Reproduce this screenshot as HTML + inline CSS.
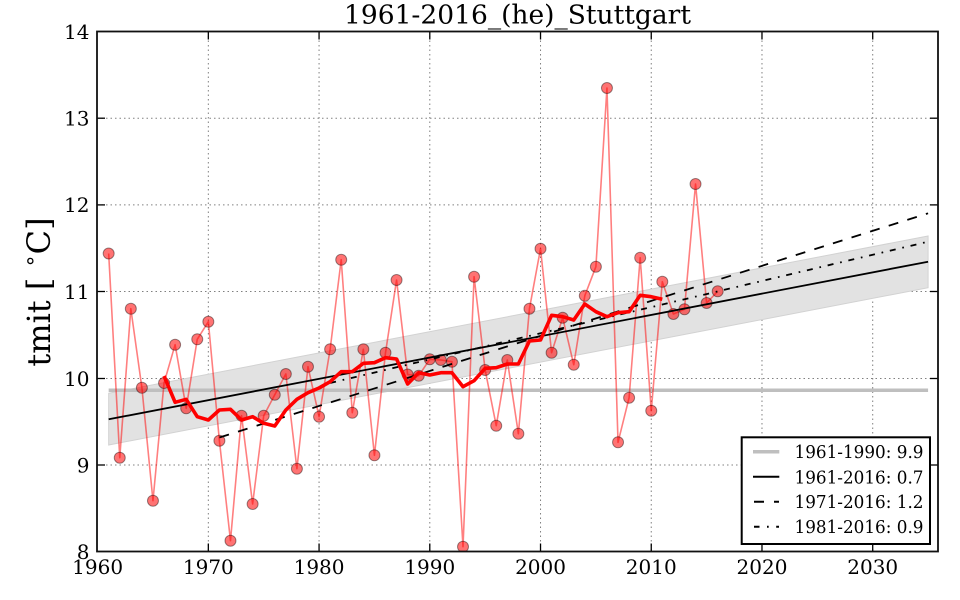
<!DOCTYPE html>
<html>
<head>
<meta charset="utf-8">
<style>
html,body{margin:0;padding:0;background:#fff;}
svg{display:block;}
text{font-family:"DejaVu Serif","Liberation Serif",serif;fill:#000;}
</style>
</head>
<body>
<svg width="960" height="600" viewBox="0 0 960 600" xmlns="http://www.w3.org/2000/svg">
<defs>
<clipPath id="pa"><rect x="97" y="31.5" width="841" height="520"/></clipPath>
</defs>
<rect width="960" height="600" fill="#fff"/>

<!-- grid -->
<g stroke="#808080" stroke-width="1" stroke-dasharray="1.5 3">
<line x1="208.33" y1="31.5" x2="208.33" y2="551.5"/>
<line x1="319.06" y1="31.5" x2="319.06" y2="551.5"/>
<line x1="429.79" y1="31.5" x2="429.79" y2="551.5"/>
<line x1="540.52" y1="31.5" x2="540.52" y2="551.5"/>
<line x1="651.25" y1="31.5" x2="651.25" y2="551.5"/>
<line x1="761.98" y1="31.5" x2="761.98" y2="551.5"/>
<line x1="872.71" y1="31.5" x2="872.71" y2="551.5"/>
<line x1="97" y1="118.2" x2="938" y2="118.2"/>
<line x1="97" y1="204.9" x2="938" y2="204.9"/>
<line x1="97" y1="291.5" x2="938" y2="291.5"/>
<line x1="97" y1="378.5" x2="938" y2="378.5"/>
<line x1="97" y1="465" x2="938" y2="465"/>
</g>

<g clip-path="url(#pa)">
<!-- confidence band -->
<polygon points="108.67,393.3 928.08,236 928.08,287.7 108.67,445" fill="#e2e2e2" stroke="#d2d2d2" stroke-width="1"/>
<!-- reference mean line -->
<line x1="108.67" y1="390.3" x2="928.08" y2="390.3" stroke="#bfbfbf" stroke-width="3.5"/>

<!-- data line -->
<polyline fill="none" stroke="#ff0000" stroke-opacity="0.5" stroke-width="1.6" stroke-linejoin="round"
points="108.67,253.5 119.75,457.7 130.82,308.7 141.89,387.7 152.97,500.7 164.04,383 175.11,344.7 186.18,408.3 197.26,339.3 208.33,321.7 219.40,440.7 230.48,540.7 241.55,415.7 252.62,504 263.70,415.7 274.77,394.7 285.84,374 296.91,468.7 307.99,366.7 319.06,416.7 330.13,349.3 341.21,259.7 352.28,412.7 363.35,349.3 374.43,455.3 385.50,352.7 396.57,280 407.64,374.5 418.72,375.7 429.79,359.3 440.86,360 451.94,361.7 463.01,546.7 474.08,276.7 485.16,370 496.23,425.7 507.30,360 518.37,433.7 529.45,308.7 540.52,248.7 551.59,352.7 562.67,317.7 573.74,364.7 584.81,295.7 595.89,266.7 606.96,88 618.03,442.3 629.10,397.7 640.18,257.7 651.25,410.7 662.32,281.7 673.40,314 684.47,309.3 695.54,184 706.62,303 717.69,291.3"/>

<!-- markers -->
<g fill="#ff0000" fill-opacity="0.55" stroke="#000" stroke-opacity="0.4" stroke-width="1">
<circle cx="108.67" cy="253.5" r="5.5"/><circle cx="119.75" cy="457.7" r="5.5"/><circle cx="130.82" cy="308.7" r="5.5"/><circle cx="141.89" cy="387.7" r="5.5"/><circle cx="152.97" cy="500.7" r="5.5"/><circle cx="164.04" cy="383" r="5.5"/><circle cx="175.11" cy="344.7" r="5.5"/><circle cx="186.18" cy="408.3" r="5.5"/><circle cx="197.26" cy="339.3" r="5.5"/><circle cx="208.33" cy="321.7" r="5.5"/>
<circle cx="219.40" cy="440.7" r="5.5"/><circle cx="230.48" cy="540.7" r="5.5"/><circle cx="241.55" cy="415.7" r="5.5"/><circle cx="252.62" cy="504" r="5.5"/><circle cx="263.70" cy="415.7" r="5.5"/><circle cx="274.77" cy="394.7" r="5.5"/><circle cx="285.84" cy="374" r="5.5"/><circle cx="296.91" cy="468.7" r="5.5"/><circle cx="307.99" cy="366.7" r="5.5"/><circle cx="319.06" cy="416.7" r="5.5"/>
<circle cx="330.13" cy="349.3" r="5.5"/><circle cx="341.21" cy="259.7" r="5.5"/><circle cx="352.28" cy="412.7" r="5.5"/><circle cx="363.35" cy="349.3" r="5.5"/><circle cx="374.43" cy="455.3" r="5.5"/><circle cx="385.50" cy="352.7" r="5.5"/><circle cx="396.57" cy="280" r="5.5"/><circle cx="407.64" cy="374.5" r="5.5"/><circle cx="418.72" cy="375.7" r="5.5"/><circle cx="429.79" cy="359.3" r="5.5"/>
<circle cx="440.86" cy="360" r="5.5"/><circle cx="451.94" cy="361.7" r="5.5"/><circle cx="463.01" cy="546.7" r="5.5"/><circle cx="474.08" cy="276.7" r="5.5"/><circle cx="485.16" cy="370" r="5.5"/><circle cx="496.23" cy="425.7" r="5.5"/><circle cx="507.30" cy="360" r="5.5"/><circle cx="518.37" cy="433.7" r="5.5"/><circle cx="529.45" cy="308.7" r="5.5"/><circle cx="540.52" cy="248.7" r="5.5"/>
<circle cx="551.59" cy="352.7" r="5.5"/><circle cx="562.67" cy="317.7" r="5.5"/><circle cx="573.74" cy="364.7" r="5.5"/><circle cx="584.81" cy="295.7" r="5.5"/><circle cx="595.89" cy="266.7" r="5.5"/><circle cx="606.96" cy="88" r="5.5"/><circle cx="618.03" cy="442.3" r="5.5"/><circle cx="629.10" cy="397.7" r="5.5"/><circle cx="640.18" cy="257.7" r="5.5"/><circle cx="651.25" cy="410.7" r="5.5"/>
<circle cx="662.32" cy="281.7" r="5.5"/><circle cx="673.40" cy="314" r="5.5"/><circle cx="684.47" cy="309.3" r="5.5"/><circle cx="695.54" cy="184" r="5.5"/><circle cx="706.62" cy="303" r="5.5"/><circle cx="717.69" cy="291.3" r="5.5"/>
</g>

<!-- trend lines -->
<line x1="108.67" y1="419.3" x2="928.08" y2="261.7" stroke="#000" stroke-width="1.8"/>
<line x1="219.40" y1="437.5" x2="928.08" y2="213.3" stroke="#000" stroke-width="1.8" stroke-dasharray="10 9.5"/>
<line x1="330.13" y1="383" x2="928.08" y2="241.7" stroke="#000" stroke-width="1.8" stroke-dasharray="6 6.8 1.7 6.8"/>

<!-- running mean -->
<polyline fill="none" stroke="#ff0000" stroke-width="3.6" stroke-linejoin="round" stroke-linecap="butt"
points="164.04,376 175.11,402.3 186.18,399.3 197.26,416.7 208.33,420 219.40,410 230.48,409.3 241.55,420 252.62,416.7 263.70,423.3 274.77,426 285.84,410 296.91,399.3 307.99,392.7 319.06,388 330.13,381.7 341.21,371.7 352.28,371.7 363.35,363.3 374.43,362.7 385.50,357.7 396.57,359 407.64,384 418.72,372.7 429.79,375 440.86,372.7 451.94,372.7 463.01,386.7 474.08,380.7 485.16,368.3 496.23,367.7 507.30,364 518.37,364 529.45,341 540.52,340 551.59,315.3 562.67,316.7 573.74,320 584.81,304 595.89,311.7 606.96,316.7 618.03,312.7 629.10,311.7 640.18,295.3 651.25,296.7 662.32,299.3"/>
</g>

<!-- ticks -->
<g stroke="#000" stroke-width="1.3">
<line x1="97" y1="118.2" x2="105" y2="118.2"/><line x1="97" y1="204.9" x2="105" y2="204.9"/><line x1="97" y1="291.5" x2="105" y2="291.5"/><line x1="97" y1="378.5" x2="105" y2="378.5"/><line x1="97" y1="465" x2="105" y2="465"/>
<line x1="930" y1="118.2" x2="938" y2="118.2"/><line x1="930" y1="204.9" x2="938" y2="204.9"/><line x1="930" y1="291.5" x2="938" y2="291.5"/><line x1="930" y1="378.5" x2="938" y2="378.5"/><line x1="930" y1="465" x2="938" y2="465"/>
<line x1="208.33" y1="551.5" x2="208.33" y2="543.5"/><line x1="319.06" y1="551.5" x2="319.06" y2="543.5"/><line x1="429.79" y1="551.5" x2="429.79" y2="543.5"/><line x1="540.52" y1="551.5" x2="540.52" y2="543.5"/><line x1="651.25" y1="551.5" x2="651.25" y2="543.5"/><line x1="761.98" y1="551.5" x2="761.98" y2="543.5"/><line x1="872.71" y1="551.5" x2="872.71" y2="543.5"/>
<line x1="208.33" y1="31.5" x2="208.33" y2="39.5"/><line x1="319.06" y1="31.5" x2="319.06" y2="39.5"/><line x1="429.79" y1="31.5" x2="429.79" y2="39.5"/><line x1="540.52" y1="31.5" x2="540.52" y2="39.5"/><line x1="651.25" y1="31.5" x2="651.25" y2="39.5"/><line x1="761.98" y1="31.5" x2="761.98" y2="39.5"/><line x1="872.71" y1="31.5" x2="872.71" y2="39.5"/>
</g>

<!-- frame -->
<rect x="97" y="31.5" width="841" height="520" fill="none" stroke="#111" stroke-width="1.8"/>

<!-- y tick labels -->
<g font-size="20" text-anchor="end">
<text x="89.5" y="38.8">14</text>
<text x="89.5" y="125.5">13</text>
<text x="89.5" y="212.2">12</text>
<text x="89.5" y="298.8">11</text>
<text x="89.5" y="385.8">10</text>
<text x="89.5" y="472.3">9</text>
<text x="89.5" y="558.8">8</text>
</g>
<!-- x tick labels -->
<g font-size="20" text-anchor="middle">
<text x="97.6" y="574">1960</text>
<text x="208.33" y="574">1970</text>
<text x="319.06" y="574">1980</text>
<text x="429.79" y="574">1990</text>
<text x="540.52" y="574">2000</text>
<text x="651.25" y="574">2010</text>
<text x="761.98" y="574">2020</text>
<text x="872.71" y="574">2030</text>
</g>

<!-- title -->
<text x="517.5" y="23.5" font-size="26.5" text-anchor="middle">1961-2016_(he)_Stuttgart</text>

<!-- y label -->
<text transform="translate(50,292) rotate(-90)" font-size="32" text-anchor="middle">tmit [ <tspan font-family="DejaVu Sans, sans-serif" font-size="21" dy="-13">∘</tspan><tspan dy="13">C]</tspan></text>

<!-- legend -->
<rect x="741.7" y="437.3" width="188.3" height="106.7" fill="#fff" stroke="#000" stroke-width="2"/>
<line x1="753" y1="451.7" x2="779.3" y2="451.7" stroke="#bfbfbf" stroke-width="3.5"/>
<line x1="753" y1="476.8" x2="779.3" y2="476.8" stroke="#000" stroke-width="2"/>
<line x1="754" y1="501.7" x2="779" y2="501.7" stroke="#000" stroke-width="2" stroke-dasharray="10 10"/>
<line x1="754" y1="526.7" x2="779" y2="526.7" stroke="#000" stroke-width="2" stroke-dasharray="5.5 7.5 1.7 7.5"/>
<g font-size="17.5">
<text x="794.5" y="458.2" textLength="129" lengthAdjust="spacingAndGlyphs">1961-1990: 9.9</text>
<text x="794.5" y="483.3" textLength="129" lengthAdjust="spacingAndGlyphs">1961-2016: 0.7</text>
<text x="794.5" y="508.2" textLength="129" lengthAdjust="spacingAndGlyphs">1971-2016: 1.2</text>
<text x="794.5" y="533.2" textLength="129" lengthAdjust="spacingAndGlyphs">1981-2016: 0.9</text>
</g>
</svg>
</body>
</html>
